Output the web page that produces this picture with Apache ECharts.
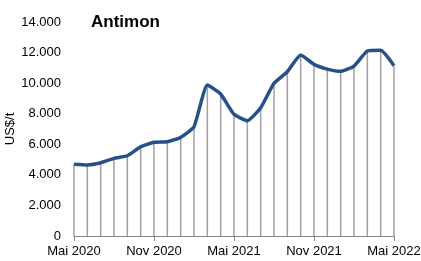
<!DOCTYPE html>
<html>
<head>
<meta charset="utf-8">
<script src="https://cdn.jsdelivr.net/npm/echarts@6/dist/echarts.min.js"></script>
<style>html,body{margin:0;padding:0;background:#fff}#c{width:421px;height:261px}</style>
</head>
<body>
<div id="c"></div>
<script>
var categories = ['Mai 2020','Jun 2020','Jul 2020','Aug 2020','Sep 2020','Okt 2020','Nov 2020','Dez 2020',
  'Jan 2021','Feb 2021','Mär 2021','Apr 2021','Mai 2021','Jun 2021','Jul 2021','Aug 2021','Sep 2021','Okt 2021',
  'Nov 2021','Dez 2021','Jan 2022','Feb 2022','Mär 2022','Apr 2022','Mai 2022'];
var prices = [4700,4650,4790,5080,5250,5840,6130,6170,6450,7150,9880,9290,7960,7540,8390,9990,10750,11840,
  11230,10920,10770,11120,12100,12150,11140];
var yTicks = {min:0, max:14000, interval:2000};

var chart = echarts.init(document.getElementById('c'));
var font = 'Liberation Sans';
chart.setOption({
  animation:false,
  title:{text:'Antimon', left:86, top:9, textStyle:{fontFamily:font, fontWeight:'bold', fontSize:17, color:'#000'}},
  grid:{left:74, right:27, top:22, bottom:25, containLabel:false, outerBoundsMode:'none'},
  xAxis:{
    type:'category', data:categories, boundaryGap:false,
    axisLine:{lineStyle:{color:'#888', width:1}},
    axisTick:{show:true, interval:5, length:5, lineStyle:{color:'#888'}},
    axisLabel:{interval:5, color:'#000', fontFamily:font, fontSize:13, margin:9},
    splitLine:{show:false}
  },
  yAxis:{
    type:'value', min:yTicks.min, max:yTicks.max, interval:yTicks.interval,
    name:'US$/t', nameLocation:'middle', nameRotate:90, nameGap:57, nameMoveOverlap:false,
    nameTextStyle:{fontFamily:font, fontSize:13, color:'#000'},
    axisLine:{show:false}, axisTick:{show:false}, splitLine:{show:false},
    axisLabel:{color:'#000', fontFamily:font, fontSize:13, margin:13,
      formatter:function(v){return v===0?'0':(v/1000).toFixed(0)+'.000';}}
  },
  series:[
    {type:'bar', data:prices, barWidth:1.5, itemStyle:{color:'#a0a0a0'}, silent:true, z:1},
    {type:'line', data:prices, smooth:0.15, showSymbol:false, lineStyle:{color:'#26508a', width:3.5}, z:2}
  ]
});
</script>
</body>
</html>
